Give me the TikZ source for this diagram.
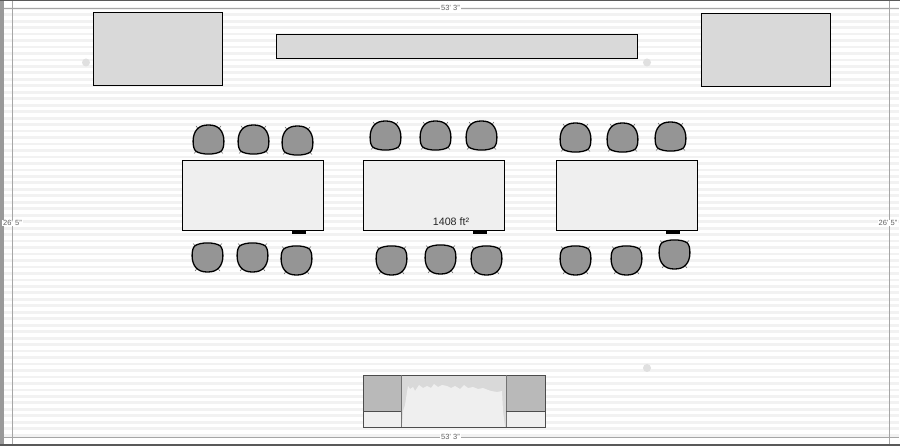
\documentclass[tikz,border=0pt]{standalone}
\usepackage{fontspec}
\setmainfont{Liberation Sans}
\tikzset{
  x=1pt,y=-1pt,
  furn/.style={draw=black,line width=1pt,fill=#1},
  tbl/.style={furn=tblfill},
  dimline/.style={draw=dimgray,line width=0.9pt},
  dimlabel/.style={font=\fontsize{7.5}{8}\selectfont,text=labelgray,fill=white,inner sep=0.8pt},
  chairseat/.style={draw=black,line width=1.3pt,fill=seatgray},
  chairtick/.style={draw=tickgray,line width=0.6pt},
  chair/.pic={
    \path[chairtick,draw] (-10,-11) -- (-12.5,-14) (10,-11) -- (12.5,-14)
       (-12,11) -- (-14.5,13.5) (12,11) -- (14.5,13.5);
    \path[chairseat,draw] (0,-15) .. controls (10,-15.2) and (15.2,-9) .. (15.4,1)
      .. controls (15.5,6) and (14.5,9.5) .. (12.5,11.3)
      .. controls (7,15) and (-7,15) .. (-12.5,11.3)
      .. controls (-14.5,9.5) and (-15.5,6) .. (-15.4,1)
      .. controls (-15.2,-9) and (-10,-15.2) .. (0,-15) -- cycle;
  }
}
\definecolor{tblfill}{HTML}{EFEFEF}
\definecolor{topfill}{HTML}{D9D9D9}
\definecolor{seatgray}{HTML}{959595}
\definecolor{tickgray}{HTML}{707070}
\definecolor{dimgray}{HTML}{A6A6A6}
\definecolor{labelgray}{HTML}{606060}
\definecolor{stripe}{HTML}{F2F2F2}
\definecolor{sofagray}{HTML}{B9B9B9}
\definecolor{dotgray}{HTML}{E0E0E0}
\begin{document}
\begin{tikzpicture}
\useasboundingbox (0,0) rectangle (900,446);
\fill[white] (0,0) rectangle (900,446);
% floor stripes
\foreach \k in {1,...,67} {
  \fill[stripe] (4,{0.3+6.47*\k}) rectangle (899,{3.1+6.47*\k});
}
% frame
\fill[black!40] (0,0) rectangle (3.5,446);
\fill[black!65] (0,0) rectangle (900,1);
\fill[black!65] (0,444) rectangle (900,446);
% dimension lines
\coordinate (tl) at (4,8); \coordinate (tr) at (899,8);
\coordinate (bl) at (4,437); \coordinate (br) at (899,437);
\coordinate (lt) at (12.5,1); \coordinate (lb) at (12.5,444);
\coordinate (rt) at (889.5,1); \coordinate (rb) at (889.5,444);
\draw[dimline] (tl) -- (tr);
\draw[dimline] (bl) -- (br);
\draw[dimline] (lt) -- (lb);
\draw[dimline] (rt) -- (rb);
\node[dimlabel] (dimtop) at (450.5,8) {53' 3"};
\node[dimlabel] (dimbot) at (450.5,436.5) {53' 3"};
\node[dimlabel] (dimleft) at (12.5,223) {26' 5"};
\node[dimlabel] (dimright) at (888,223) {26' 5"};
% dots
\foreach \n/\x/\y in {d1/86/62.5,d2/647/62.5,d3/647/368}
  \fill[dotgray] (\x,\y) circle (4);
% top furniture
\path[furn=topfill] (93,13) rectangle (222.5,85.5);
\path[furn=topfill] (701,14) rectangle (830.5,87);
\path[furn=topfill,line width=0.6pt] (276,34) rectangle (637.5,58.5);
% tables
\path[tbl] (182.5,161) rectangle (323,231);
\path[tbl] (363.5,160.5) rectangle (504.5,231);
\path[tbl] (556.5,160.5) rectangle (697,231);
\fill[black] (292,231) rectangle (306,234);
\fill[black] (473,231) rectangle (487,234);
\fill[black] (666,231) rectangle (680,234);
\node[font=\fontsize{10.7}{12}\selectfont,text=black!85,inner sep=0pt] (area) at (451,222) {1408 ft²};
% chairs
\foreach \x/\y in {208.5/140,253.5/140,297.5/141,385.5/136,435.5/136,481.5/136,575.5/138,622.5/138,670.5/137}
  \pic at (\x,\y) {chair};
\foreach \x/\y in {207.5/257,252.5/257,296.5/260,391.5/260,440.5/259,486.5/260,575.5/260,626.5/260,674.5/254}
  \pic[rotate=180] at (\x,\y) {chair};
% sofa
\path[fill=tblfill] (363,375) rectangle (545,427);
\fill[topfill] (401,375) rectangle (506,427);
\fill[tblfill] (402,427) -- (403,411) -- (405,405) -- (407,392) -- (408,386) -- (410,389) -- (413,387) -- (415,391) -- (419,385) -- (423,388) -- (427,386) -- (431,388) -- (434,384) -- (438,387) -- (442,385) -- (447,386) -- (451,388) -- (455,386) -- (460,389) -- (464,385) -- (468,388) -- (473,387) -- (478,389) -- (483,388) -- (488,390) -- (491,391) -- (497,392) -- (502,391) -- (503,411) -- (505,427) -- cycle;
\fill[sofagray] (363,375) rectangle (401,411);
\fill[sofagray] (506,375) rectangle (545,411);
\draw[black!70,line width=0.8pt] (363,375) rectangle (545,427);
\draw[black!55,line width=0.8pt] (401,375) -- (401,427) (506,375) -- (506,427);
\draw[black!70,line width=0.8pt] (363,411) -- (401,411) (506,411) -- (545,411);
\end{tikzpicture}
\end{document}
